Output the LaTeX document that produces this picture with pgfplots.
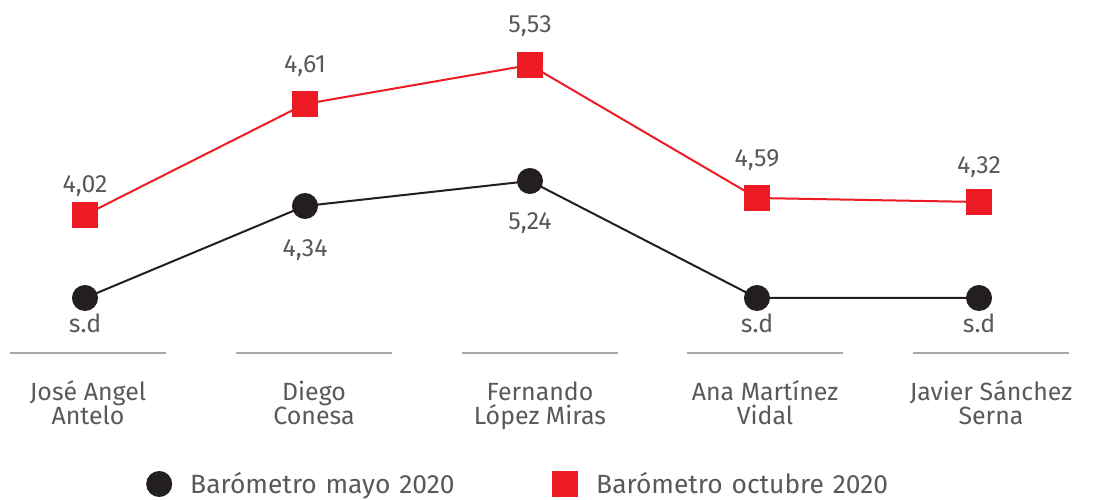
\documentclass[border=0pt]{standalone}
\usepackage{pgfplots}
\pgfplotsset{compat=1.18}
\usepackage{fontspec}
\setmainfont{Fira Sans}
\definecolor{redc}{HTML}{ED1C24}
\definecolor{blk}{HTML}{231F20}
\definecolor{txt}{HTML}{58595B}
\definecolor{sepc}{HTML}{A7A9AC}
\begin{document}
\begin{tikzpicture}
\begin{axis}[
  scale only axis, width=1096bp, height=500bp,
  xmin=0, xmax=1096, ymin=0, ymax=500, y dir=reverse,
  hide axis, clip=false,
  legend style={at={(axis cs:147,484)}, anchor=west, draw=none, fill=none,
    inner sep=0pt, legend columns=2, text=txt,
    nodes={inner sep=0pt, text width=300bp, align=left},
    font=\fontsize{26.5}{26.5}\selectfont,
    /tikz/every even column/.append style={column sep=63bp},
    /tikz/every odd column/.append style={column sep=19bp}},
  legend image code/.code={\draw[#1] plot coordinates {(13bp,0bp)};},
]
% Barometro mayo 2020 (marker positions as drawn in the reference)
\addplot[blk, line width=2bp, mark=*, mark size=12bp, mark options={solid, fill=blk}]
  coordinates {(85,298) (305,206) (530,181) (757,298) (979,298)};
\addlegendentry{Barómetro mayo 2020}
% Barometro octubre 2020
\addplot[redc, line width=2bp, mark=square*, mark size=12bp, mark options={solid, fill=redc}]
  coordinates {(85,215) (305,104) (530,65) (757,198) (979,202)};
\addlegendentry{Barómetro octubre 2020}

\path (axis cs:0,0) rectangle (axis cs:1096,500);

\begin{scope}[every node/.style={text=txt, font=\fontsize{25}{25}\selectfont, anchor=base, inner sep=0pt}]
% value labels
\node at (axis cs:85,193) {4,02};
\node at (axis cs:305,73) {4,61};
\node at (axis cs:530,33) {5,53};
\node at (axis cs:757,167) {4,59};
\node at (axis cs:979,174) {4,32};
\node at (axis cs:85,333) {s.d};
\node at (axis cs:305,257) {4,34};
\node at (axis cs:530,230) {5,24};
\node at (axis cs:757,333) {s.d};
\node at (axis cs:979,333) {s.d};
% category labels
\node at (axis cs:88,401) {José Angel};
\node at (axis cs:88,425) {Antelo};
\node at (axis cs:314,401) {Diego};
\node at (axis cs:314,425) {Conesa};
\node at (axis cs:540,401) {Fernando};
\node at (axis cs:540,425) {López Miras};
\node at (axis cs:765,401) {Ana Martínez};
\node at (axis cs:765,425) {Vidal};
\node at (axis cs:991,401) {Javier Sánchez};
\node at (axis cs:991,425) {Serna};
\end{scope}
% separators
\draw[sepc, line width=2bp] (axis cs:10,353) -- (axis cs:166,353);
\draw[sepc, line width=2bp] (axis cs:236,353) -- (axis cs:392,353);
\draw[sepc, line width=2bp] (axis cs:462,353) -- (axis cs:618,353);
\draw[sepc, line width=2bp] (axis cs:687,353) -- (axis cs:843,353);
\draw[sepc, line width=2bp] (axis cs:913,353) -- (axis cs:1069,353);
\end{axis}
\end{tikzpicture}
\end{document}
